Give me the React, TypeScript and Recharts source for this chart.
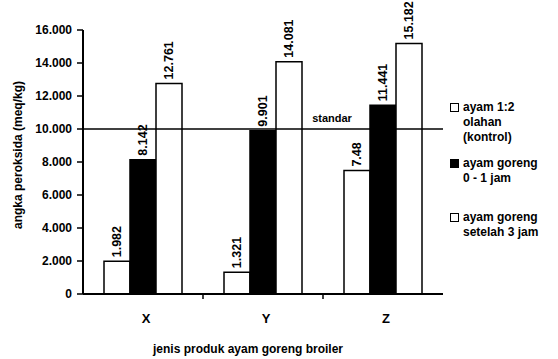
import React from "react";
import {
  BarChart,
  Bar,
  XAxis,
  YAxis,
  ReferenceLine,
  LabelList,
} from "recharts";

const categories = ["X", "Y", "Z"];
const seriesNames = [
  ["ayam 1:2", "olahan", "(kontrol)"],
  ["ayam goreng", "0 - 1 jam"],
  ["ayam goreng", "setelah 3 jam"],
];
const kontrol = [1982, 1321, 7480];
const goreng01 = [8142, 9901, 11441];
const goreng3 = [12761, 14081, 15182];
const kontrolLabels = ["1.982", "1.321", "7.48"];
const goreng01Labels = ["8.142", "9.901", "11.441"];
const goreng3Labels = ["12.761", "14.081", "15.182"];
const yTicks = [0, 2000, 4000, 6000, 8000, 10000, 12000, 14000, 16000];
const standar = 10000;

const FONT = "'Liberation Sans', Arial, sans-serif";

const data = categories.map((c, i) => ({
  name: c,
  kontrol: kontrol[i],
  goreng01: goreng01[i],
  goreng3: goreng3[i],
  kontrolLabel: kontrolLabels[i],
  goreng01Label: goreng01Labels[i],
  goreng3Label: goreng3Labels[i],
}));

const fmt = (v: number) => (v === 0 ? "0" : v.toLocaleString("de-DE"));

// rotated value label above each bar
const BarLabel = (props: any) => {
  const { x, y, width, value } = props;
  const cx = x + width / 2;
  const ty = y - 4;
  return (
    <text
      x={cx}
      y={ty}
      transform={`rotate(-90 ${cx} ${ty})`}
      textAnchor="start"
      dominantBaseline="central"
      fontSize={12.5}
      fontWeight="bold"
      fontFamily={FONT}
      fill="#000"
    >
      {value}
    </text>
  );
};

const XTick = (props: any) => {
  const { x, y, payload, index } = props;
  const off = payload && payload.offset ? payload.offset : 0;
  return (
    <g>
      <text
        x={x + 3}
        y={y + 29}
        textAnchor="middle"
        fontSize={13}
        fontWeight="bold"
        fontFamily={FONT}
        fill="#000"
      >
        {payload.value}
      </text>
      {index < categories.length - 1 && (
        <line x1={x + off} x2={x + off} y1={y} y2={y + 5} stroke="#000" strokeWidth={1.5} />
      )}
    </g>
  );
};

const YLabel = (props: any) => {
  const { viewBox } = props;
  const lx = viewBox.x + 18;
  const ly = viewBox.y + viewBox.height / 2 - 7;
  return (
    <text
      x={lx}
      y={ly}
      transform={`rotate(-90 ${lx} ${ly})`}
      textAnchor="middle"
      dominantBaseline="central"
      fontSize={12}
      fontWeight="bold"
      fontFamily={FONT}
      fill="#000"
    >
      angka peroksida (meq/kg)
    </text>
  );
};

const swatch = [
  { background: "#fff", border: "1.5px solid #000" },
  { background: "#000", border: "1.5px solid #000" },
  { background: "#fff", border: "1.5px solid #000" },
];
const legendTops = [100, 156, 210];

export default function App() {
  return (
    <div
      style={{
        position: "absolute",
        left: 0,
        top: 0,
        width: 558,
        height: 359,
        background: "#fff",
        fontFamily: FONT,
      }}
    >
      <BarChart
        width={558}
        height={359}
        data={data}
        margin={{ top: 30, right: 115, bottom: 0, left: 0 }}
        barCategoryGap="17.5%"
        barGap={0}
      >
        <XAxis
          dataKey="name"
          height={65}
          tickLine={false}
          tickSize={0}
          tickMargin={0}
          tick={<XTick />}
          axisLine={{ stroke: "#000", strokeWidth: 2 }}
          label={{
            value: "jenis produk ayam goreng broiler",
            position: "insideBottom",
            offset: 6,
            dx: -15,
            style: { fill: "#000", fontSize: 12, fontWeight: "bold", fontFamily: FONT },
          }}
        />
        <YAxis
          width={83}
          domain={[0, 16000]}
          ticks={yTicks}
          interval={0}
          tickFormatter={fmt}
          tickSize={6}
          tickMargin={5}
          tick={{ fill: "#000", fontSize: 12, fontWeight: "bold", fontFamily: FONT }}
          tickLine={{ stroke: "#000", strokeWidth: 1.5 }}
          axisLine={{ stroke: "#000", strokeWidth: 2 }}
          label={<YLabel />}
        />
        <Bar dataKey="kontrol" fill="#fff" stroke="#000" strokeWidth={1.5} isAnimationActive={false}>
          <LabelList dataKey="kontrolLabel" content={<BarLabel />} />
        </Bar>
        <Bar dataKey="goreng01" fill="#000" stroke="#000" strokeWidth={1.5} isAnimationActive={false}>
          <LabelList dataKey="goreng01Label" content={<BarLabel />} />
        </Bar>
        <Bar dataKey="goreng3" fill="#fff" stroke="#000" strokeWidth={1.5} isAnimationActive={false}>
          <LabelList dataKey="goreng3Label" content={<BarLabel />} />
        </Bar>
        <ReferenceLine
          y={standar}
          stroke="#000"
          strokeWidth={1.5}
          label={{
            value: "standar",
            position: "top",
            offset: 7,
            dx: 69,
            style: { fill: "#000", fontSize: 11, fontWeight: "bold", fontFamily: FONT },
          }}
        />
      </BarChart>
      {seriesNames.map((lines, i) => (
        <div
          key={i}
          style={{
            position: "absolute",
            left: 450,
            top: legendTops[i],
            fontSize: 12,
            fontWeight: "bold",
            lineHeight: "15px",
            color: "#000",
          }}
        >
          {lines.map((t, j) => (
            <div key={j} style={{ display: "flex", alignItems: "center" }}>
              <span
                style={{
                  display: "inline-block",
                  width: 7,
                  height: 7,
                  marginRight: 4,
                  visibility: j === 0 ? "visible" : "hidden",
                  ...swatch[i],
                }}
              />
              <span>{t}</span>
            </div>
          ))}
        </div>
      ))}
    </div>
  );
}
